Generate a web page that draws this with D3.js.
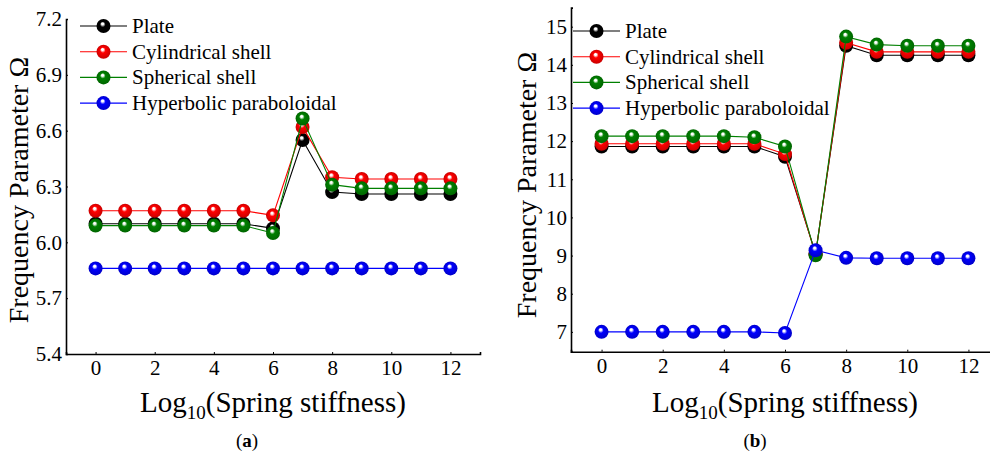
<!DOCTYPE html>
<html>
<head>
<meta charset="utf-8">
<script src="https://cdn.jsdelivr.net/npm/d3@7"></script>
<style>
  html, body { margin: 0; padding: 0; background: #fff; }
  svg text { font-family: "Liberation Serif", "Times New Roman", "DejaVu Serif", serif !important; }
</style>
</head>
<body>
<svg id="chart" width="990" height="453"></svg>
<script>
// Spring stiffness exponents (log10)
const stiffness = [0, 1, 2, 3, 4, 5, 6, 7, 8, 9, 10, 11, 12];

const seriesNames = ["Plate", "Cylindrical shell", "Spherical shell", "Hyperbolic paraboloidal"];
const seriesColors = ["#000000", "#ff0000", "#008000", "#0000ff"];

// Panel (a)
const plateA       = [6.10, 6.10, 6.10, 6.10, 6.10, 6.10, 6.075, 6.55, 6.27, 6.26, 6.26, 6.26, 6.26];
const cylindricalA = [6.17, 6.17, 6.17, 6.17, 6.17, 6.17, 6.145, 6.62, 6.35, 6.34, 6.34, 6.34, 6.34];
const sphericalA   = [6.09, 6.09, 6.09, 6.09, 6.09, 6.09, 6.05, 6.665, 6.31, 6.29, 6.29, 6.29, 6.29];
const hyperbolicA  = [5.86, 5.86, 5.86, 5.86, 5.86, 5.86, 5.86, 5.86, 5.86, 5.86, 5.86, 5.86, 5.86];
const yTicksA = [5.4, 5.7, 6.0, 6.3, 6.6, 6.9, 7.2];

// Panel (b)
const plateB       = [11.86, 11.86, 11.86, 11.86, 11.86, 11.86, 11.59, 9.05, 14.50, 14.25, 14.25, 14.25, 14.25];
const cylindricalB = [11.93, 11.93, 11.93, 11.93, 11.93, 11.93, 11.66, 9.03, 14.58, 14.34, 14.34, 14.34, 14.34];
const sphericalB   = [12.13, 12.13, 12.13, 12.13, 12.13, 12.10, 11.86, 9.01, 14.74, 14.53, 14.50, 14.50, 14.50];
const hyperbolicB  = [7.00, 7.00, 7.00, 7.00, 7.00, 7.00, 6.97, 9.14, 8.94, 8.93, 8.93, 8.93, 8.93];
const yTicksB = [7, 8, 9, 10, 11, 12, 13, 14, 15];

const xTicks = [0, 2, 4, 6, 8, 10, 12];

const FONT = "Liberation Serif, Times New Roman, DejaVu Serif, serif";

const svg = d3.select("#chart");
const defs = svg.append("defs");

// Glossy sphere fill for each series colour
seriesColors.forEach((c, i) => {
  const g = defs.append("radialGradient")
    .attr("id", "ball" + i)
    .attr("cx", "50%").attr("cy", "50%").attr("r", "52%")
    .attr("fx", "42%").attr("fy", "32%");
  g.append("stop").attr("offset", "0%").attr("stop-color", "#ffffff");
  g.append("stop").attr("offset", "14%").attr("stop-color", "#ffffff").attr("stop-opacity", 0.95);
  g.append("stop").attr("offset", "38%").attr("stop-color", c);
  g.append("stop").attr("offset", "100%").attr("stop-color", d3.color(c).darker(0.7));
});

function drawPanel(cfg) {
  const g = svg.append("g").attr("font-family", FONT);
  const x = d3.scaleLinear().domain([-1, 13]).range([cfg.left, cfg.right]);
  const y = d3.scaleLinear().domain(cfg.yDomain).range([cfg.bottom, cfg.top]);

  // Axes: short inward ticks
  const xAxis = d3.axisBottom(x).tickValues(xTicks).tickSize(-2).tickPadding(6)
    .tickFormat(d3.format("d"));
  const yAxis = d3.axisLeft(y).tickValues(cfg.yTicks).tickSize(-2).tickPadding(4)
    .tickFormat(cfg.yFormat);

  const gx = g.append("g").attr("transform", `translate(0,${cfg.bottom})`).call(xAxis);
  const gy = g.append("g").attr("transform", `translate(${cfg.left},0)`).call(yAxis);
  [gx, gy].forEach(a => {
    a.attr("font-family", FONT).attr("font-size", 21);
    a.select(".domain").attr("stroke", "#000").attr("stroke-width", 1.6);
    a.selectAll(".tick line").attr("stroke", "#000").attr("stroke-width", 1);
    a.selectAll(".tick text").attr("fill", "#000");
  });

  // Axis titles
  const xt = g.append("text")
    .attr("x", (cfg.left + cfg.right) / 2)
    .attr("y", 412)
    .attr("text-anchor", "middle")
    .attr("font-size", 29);
  xt.append("tspan").text("Log");
  xt.append("tspan").attr("dy", 7).attr("font-size", 19).text("10");
  xt.append("tspan").attr("dy", -7).text("(Spring stiffness)");

  g.append("text")
    .attr("transform", `translate(${cfg.yTitleX},${cfg.yTitleY}) rotate(-90)`)
    .attr("text-anchor", "middle")
    .attr("font-size", 28)
    .text("Frequency Parameter Ω");

  // Panel caption
  const cap = g.append("text")
    .attr("x", cfg.captionX).attr("y", 447)
    .attr("text-anchor", "middle")
    .attr("font-size", 19);
  cap.append("tspan").text("(");
  cap.append("tspan").attr("font-weight", "bold").text(cfg.caption);
  cap.append("tspan").text(")");

  // Series lines and markers
  const line = d3.line().x((d, i) => x(stiffness[i])).y(d => y(d));
  cfg.series.forEach((vals, si) => {
    g.append("path").datum(vals)
      .attr("d", line)
      .attr("fill", "none")
      .attr("stroke", seriesColors[si])
      .attr("stroke-width", 1.1);
    g.append("g").selectAll("circle").data(vals).join("circle")
      .attr("cx", (d, i) => x(stiffness[i]))
      .attr("cy", d => y(d))
      .attr("r", 7)
      .attr("fill", `url(#ball${si})`);
  });

  // Legend
  seriesNames.forEach((name, i) => {
    const ly = cfg.legendY + i * 25.7;
    g.append("line")
      .attr("x1", cfg.legendX).attr("x2", cfg.legendX + 47)
      .attr("y1", ly).attr("y2", ly)
      .attr("stroke", seriesColors[i]).attr("stroke-width", 1.1);
    g.append("circle")
      .attr("cx", cfg.legendX + 23.5).attr("cy", ly).attr("r", 7)
      .attr("fill", `url(#ball${i})`);
    g.append("text")
      .attr("x", cfg.legendX + 52).attr("y", ly + 7)
      .attr("font-size", 21)
      .text(name);
  });
}

drawPanel({
  left: 66, right: 480, top: 19, bottom: 354,
  yDomain: [5.4, 7.2], yTicks: yTicksA, yFormat: d3.format(".1f"),
  series: [plateA, cylindricalA, sphericalA, hyperbolicA],
  yTitleX: 28, yTitleY: 190,
  caption: "a", captionX: 247,
  legendX: 80, legendY: 26
});

drawPanel({
  left: 571, right: 999, top: 7.6, bottom: 351.7,
  yDomain: [6.48, 15.5], yTicks: yTicksB, yFormat: d3.format("d"),
  series: [plateB, cylindricalB, sphericalB, hyperbolicB],
  yTitleX: 536, yTitleY: 185,
  caption: "b", captionX: 755,
  legendX: 573, legendY: 31
});
</script>
</body>
</html>
